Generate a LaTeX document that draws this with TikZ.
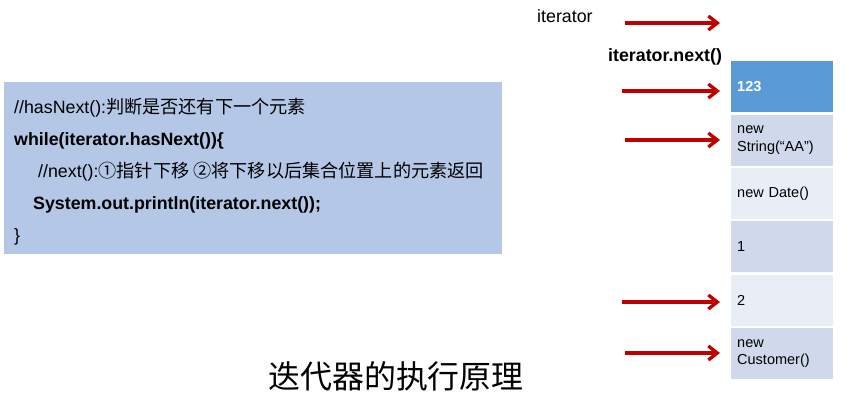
\documentclass[tikz,border=0pt]{standalone}
\usepackage{fontspec}
\setmainfont{Liberation Sans}
\newfontfamily\cjk{Noto Sans CJK SC}[Scale=1.02]
\usetikzlibrary{positioning, arrows.meta}

\definecolor{codebg}{HTML}{B4C7E7}
\definecolor{cellhead}{HTML}{5B9BD5}
\definecolor{celldark}{HTML}{CFD9EB}
\definecolor{celllight}{HTML}{E9EDF5}
\definecolor{ptrred}{HTML}{C00000}

\begin{document}
\begin{tikzpicture}[
	x=1pt, y=-1pt,
	% Define styles
	codebox/.style={rectangle, fill=codebg, minimum width=498pt, minimum height=172pt, anchor=north west, inner sep=0pt},
	codeline/.style={anchor=base west, inner sep=0pt, font=\fontsize{17.8}{21}\selectfont},
	ptrlabel/.style={anchor=base west, inner sep=0pt, font=\fontsize{17.8}{21}\selectfont},
	cell/.style={rectangle, fill=celldark, minimum width=102pt, minimum height=51pt, text width=90pt, inner xsep=6pt, inner ysep=0pt, align=left, font=\fontsize{14.5}{17.5}\selectfont},
	ptr/.style={-{Straight Barb[length=9pt, width=14pt]}, line width=3.3pt, ptrred, shorten >=11pt}
	]
	\useasboundingbox (0,0) rectangle (860,402);
	
	% 1. Code box
	\node[codebox] (code) at (4,82) {};
	\node[codeline] (l1) at (14,113) {//hasNext():{\cjk 判断是否还有下一个元素}};
	\node[codeline] (l2) at (14,145) {\bfseries while(iterator.hasNext())\{};
	\node[codeline] (l3) at (38,177) {//next():{\cjk ①指针下移 ②将下移以后集合位置上的元素返回}};
	\node[codeline] (l4) at (33,209) {\bfseries System.out.println(iterator.next());};
	\node[codeline] (l5) at (14,241) {\}};
	
	% 2. Collection cells
	\node[cell, fill=cellhead, text=white, font=\fontsize{14.5}{17.5}\selectfont\bfseries, anchor=north west] (c1) at (731,61) {123};
	\node[cell, below=2pt of c1] (c2) {new\\String(“AA”)};
	\node[cell, fill=celllight, below=2pt of c2] (c3) {new Date()};
	\node[cell, below=2pt of c3] (c4) {1};
	\node[cell, fill=celllight, below=2pt of c4] (c5) {2};
	\node[cell, below=2pt of c5] (c6) {new\\Customer()};
	
	% 3. Labels
	\node[ptrlabel] (itlabel) at (537,22) {iterator};
	\node[ptrlabel, font=\fontsize{17.8}{21}\selectfont\bfseries] (nextlabel) at (608,61) {iterator.next()};
	
	% 4. Pointer arrows
	\coordinate (a0) at (625,23);
	\coordinate (a1) at (622,91);
	\coordinate (a2) at (625,140);
	\coordinate (a5) at (622,302);
	\coordinate (a6) at (625,353);
	\draw[ptr] (a0) -- (a0 -| c1.west);
	\draw[ptr] (a1) -- (a1 -| c1.west);
	\draw[ptr] (a2) -- (a2 -| c2.west);
	\draw[ptr] (a5) -- (a5 -| c5.west);
	\draw[ptr] (a6) -- (a6 -| c6.west);
	
	% 5. Title
	\node[font=\cjk\fontsize{31.3}{36}\selectfont] (title) at (396,376) {迭代器的执行原理};
\end{tikzpicture}
\end{document}
